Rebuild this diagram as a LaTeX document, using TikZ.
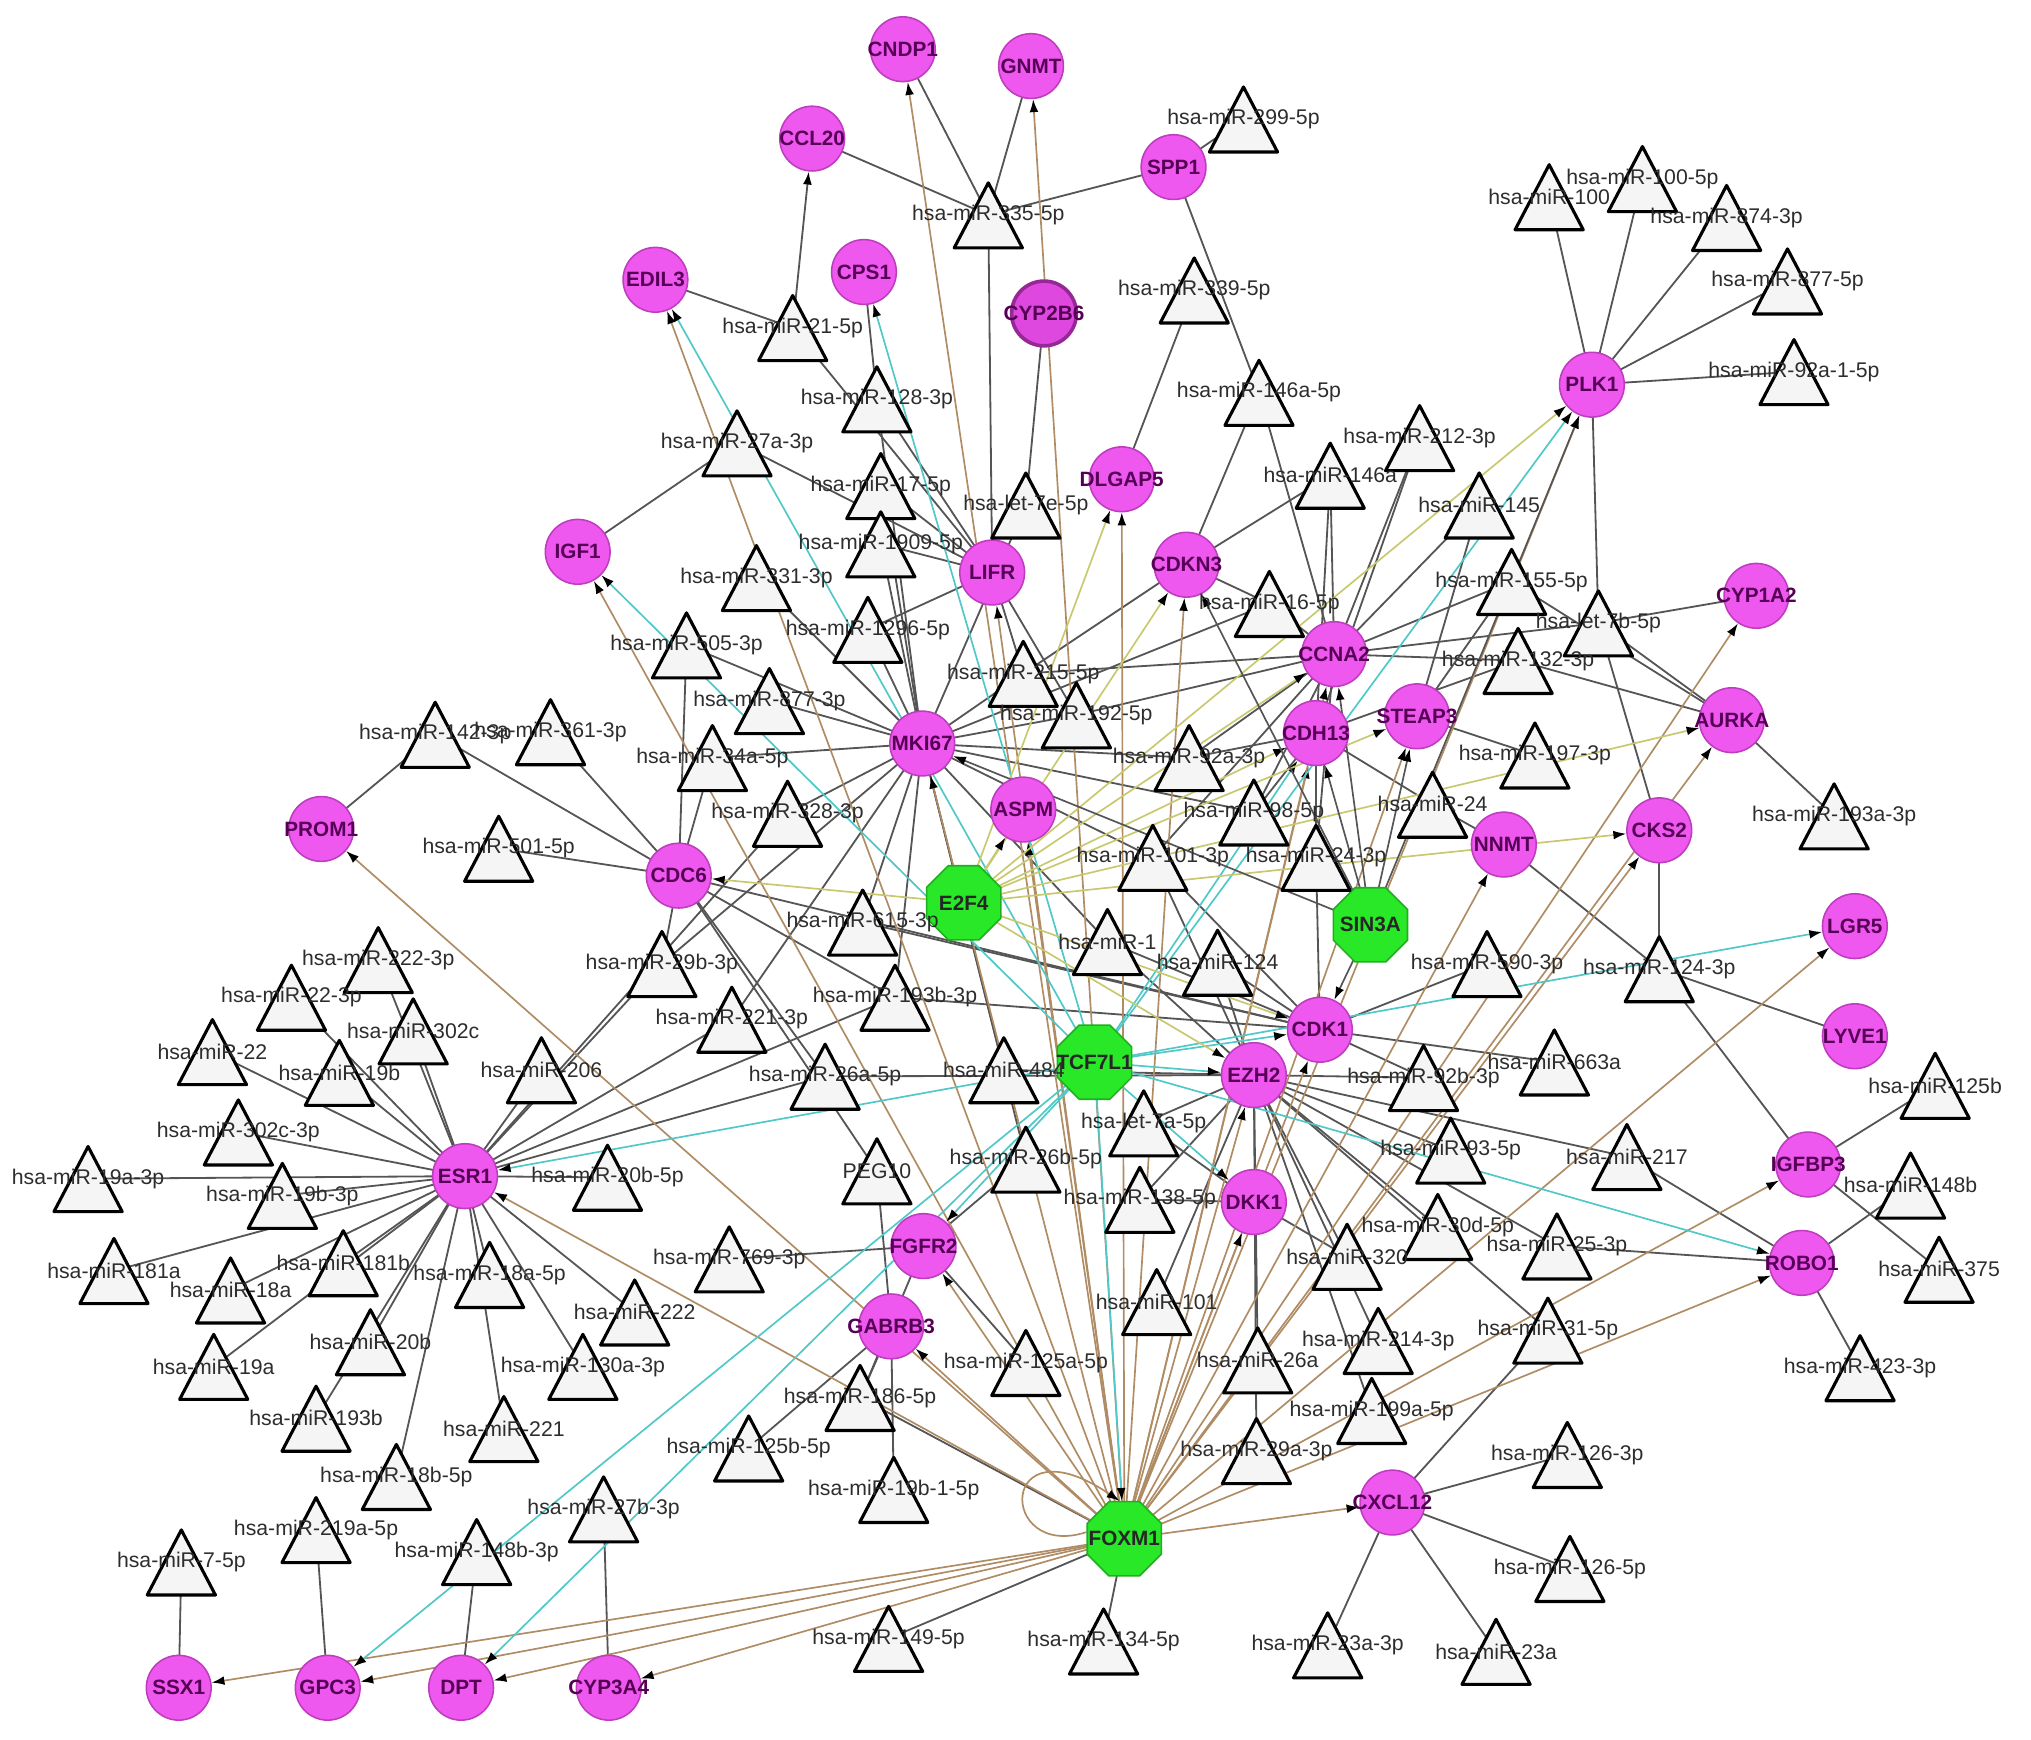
\documentclass[tikz,border=0pt]{standalone}
\usepackage{fontspec}
\setmainfont{Liberation Sans}
\usetikzlibrary{shapes.geometric,arrows.meta,backgrounds,calc}

\definecolor{genefill}{RGB}{238,88,238}
\definecolor{genedraw}{RGB}{190,60,190}
\definecolor{genetext}{RGB}{85,0,85}
\definecolor{tffill}{RGB}{40,232,40}
\definecolor{tfdraw}{RGB}{30,175,30}
\definecolor{labtext}{RGB}{45,45,45}
\definecolor{linkgray}{RGB}{85,85,85}
\definecolor{foxbrown}{RGB}{176,140,100}
\definecolor{tcfcyan}{RGB}{80,200,200}
\definecolor{e2folive}{RGB}{200,200,110}

\newcommand{\nb}[1]{\makebox[0pt]{#1}}

\tikzset{
  gene/.style={circle, draw=genedraw, line width=0.6pt, fill=genefill, minimum size=25pt, inner sep=0pt, text=genetext, font=\fontsize{8}{9}\selectfont\bfseries},
  tf/.style={regular polygon, regular polygon sides=8, draw=tfdraw, line width=0.6pt, fill=tffill, minimum size=31pt, inner sep=0pt, text=black!85, font=\fontsize{8}{9}\selectfont\bfseries},
  mir/.style={rectangle, minimum width=28pt, minimum height=27pt, inner sep=0pt, text=labtext, font=\fontsize{8.2}{9}\selectfont,
    path picture={\draw[line width=1.2pt, line join=round, fill=black!4]
      ($(path picture bounding box.north)!0.04!(path picture bounding box.south)$) --
      ($(path picture bounding box.south east)!0.03!(path picture bounding box.north west)$) --
      ($(path picture bounding box.south west)!0.03!(path picture bounding box.north east)$) -- cycle;}},
  mlink/.style={draw=linkgray, line width=0.7pt},
  tip/.style={-{Latex[length=5pt,width=3.4pt,color=black]}},
  foxlink/.style={tip, draw=foxbrown, line width=0.65pt},
  tcflink/.style={tip, draw=tcfcyan, line width=0.65pt},
  e2flink/.style={tip, draw=e2folive, line width=0.65pt},
  sinlink/.style={tip, draw=linkgray, line width=0.65pt},
}

\begin{document}
\begin{tikzpicture}[x=0.5pt,y=0.5pt,yscale=-1,xscale=1]
\useasboundingbox (0,0) rectangle (1568,1343);

%Gene nodes
\node[gene] (cndp1) at (697,38) {\nb{CNDP1}};
\node[gene] (gnmt) at (796,51) {\nb{GNMT}};
\node[gene] (ccl20) at (627,107) {\nb{CCL20}};
\node[gene] (spp1) at (906,129) {\nb{SPP1}};
\node[gene] (edil3) at (506,216) {\nb{EDIL3}};
\node[gene] (cps1) at (667,210) {\nb{CPS1}};
\node[gene, draw={rgb,255:red,150;green,40;blue,150}, line width=1.4pt, fill={rgb,255:red,222;green,72;blue,222}] (cyp2b6) at (806,242) {\nb{CYP2B6}};
\node[gene] (plk1) at (1229,297) {\nb{PLK1}};
\node[gene] (dlgap5) at (866,370) {\nb{DLGAP5}};
\node[gene] (igf1) at (446,426) {\nb{IGF1}};
\node[gene] (lifr) at (766,442) {\nb{LIFR}};
\node[gene] (cdkn3) at (916,436) {\nb{CDKN3}};
\node[gene] (cyp1a2) at (1356,460) {\nb{CYP1A2}};
\node[gene] (ccna2) at (1030,505) {\nb{CCNA2}};
\node[gene] (steap3) at (1094,553) {\nb{STEAP3}};
\node[gene] (cdh13) at (1016,566) {\nb{CDH13}};
\node[gene] (aurka) at (1337,556) {\nb{AURKA}};
\node[gene] (mki67) at (712,574) {\nb{MKI67}};
\node[gene] (aspm) at (790,625) {\nb{ASPM}};
\node[gene] (prom1) at (248,640) {\nb{PROM1}};
\node[gene] (cdc6) at (524,676) {\nb{CDC6}};
\node[gene] (nnmt) at (1161,652) {\nb{NNMT}};
\node[gene] (cks2) at (1281,641) {\nb{CKS2}};
\node[gene] (lgr5) at (1432,715) {\nb{LGR5}};
\node[gene] (lyve1) at (1432,800) {\nb{LYVE1}};
\node[gene] (cdk1) at (1019,795) {\nb{CDK1}};
\node[gene] (ezh2) at (968,830) {\nb{EZH2}};
\node[gene] (esr1) at (359,908) {\nb{ESR1}};
\node[gene] (igfbp3) at (1396,899) {\nb{IGFBP3}};
\node[gene] (dkk1) at (968,928) {\nb{DKK1}};
\node[gene] (fgfr2) at (713,962) {\nb{FGFR2}};
\node[gene] (robo1) at (1391,975) {\nb{ROBO1}};
\node[gene] (gabrb3) at (688,1024) {\nb{GABRB3}};
\node[gene] (cxcl12) at (1075,1160) {\nb{CXCL12}};
\node[gene] (ssx1) at (138,1303) {\nb{SSX1}};
\node[gene] (gpc3) at (253,1303) {\nb{GPC3}};
\node[gene] (dpt) at (356,1303) {\nb{DPT}};
\node[gene] (cyp3a4) at (470,1303) {\nb{CYP3A4}};

%Transcription factors
\node[tf] (e2f4) at (744,697) {\nb{E2F4}};
\node[tf] (sin3a) at (1058,714) {\nb{SIN3A}};
\node[tf] (tcf7l1) at (845,820) {\nb{TCF7L1}};
\node[tf] (foxm1) at (868,1188) {\nb{FOXM1}};

%miRNA nodes
\node[mir] (m299) at (960,92) {\nb{hsa-miR-299-5p}};
\node[mir] (m335) at (763,166) {\nb{hsa-miR-335-5p}};
\node[mir] (m100) at (1196,152) {\nb{hsa-miR-100}};
\node[mir] (m100b) at (1268,138) {\nb{hsa-miR-100-5p}};
\node[mir] (m874) at (1333,168) {\nb{hsa-miR-874-3p}};
\node[mir] (m877b) at (1380,217) {\nb{hsa-miR-877-5p}};
\node[mir] (m92x) at (1385,287) {\nb{hsa-miR-92a-1-5p}};
\node[mir] (m21) at (612,253) {\nb{hsa-miR-21-5p}};
\node[mir] (m339) at (922,224) {\nb{hsa-miR-339-5p}};
\node[mir] (m128) at (677,308) {\nb{hsa-miR-128-3p}};
\node[mir] (m146b) at (972,303) {\nb{hsa-miR-146a-5p}};
\node[mir] (m212) at (1096,338) {\nb{hsa-miR-212-3p}};
\node[mir] (m27a) at (569,342) {\nb{hsa-miR-27a-3p}};
\node[mir] (m17) at (680,375) {\nb{hsa-miR-17-5p}};
\node[mir] (l7e) at (792,390) {\nb{hsa-let-7e-5p}};
\node[mir] (m146) at (1027,367) {\nb{hsa-miR-146a}};
\node[mir] (m145) at (1142,390) {\nb{hsa-miR-145}};
\node[mir] (m1909) at (680,420) {\nb{hsa-miR-1909-5p}};
\node[mir] (m331) at (584,446) {\nb{hsa-miR-331-3p}};
\node[mir] (m155) at (1167,449) {\nb{hsa-miR-155-5p}};
\node[mir] (m16) at (980,466) {\nb{hsa-miR-16-5p}};
\node[mir] (l7b) at (1234,481) {\nb{hsa-let-7b-5p}};
\node[mir] (m505) at (530,498) {\nb{hsa-miR-505-3p}};
\node[mir] (m1296) at (670,486) {\nb{hsa-miR-1296-5p}};
\node[mir] (m215) at (790,520) {\nb{hsa-miR-215-5p}};
\node[mir] (m132) at (1172,510) {\nb{hsa-miR-132-3p}};
\node[mir] (m877) at (594,541) {\nb{hsa-miR-877-3p}};
\node[mir] (m192) at (831,552) {\nb{hsa-miR-192-5p}};
\node[mir] (m142) at (336,567) {\nb{hsa-miR-142-3p}};
\node[mir] (m361) at (425,565) {\nb{hsa-miR-361-3p}};
\node[mir] (m34a) at (550,585) {\nb{hsa-miR-34a-5p}};
\node[mir] (m92a) at (918,585) {\nb{hsa-miR-92a-3p}};
\node[mir] (m197) at (1185,583) {\nb{hsa-miR-197-3p}};
\node[mir] (m328) at (608,628) {\nb{hsa-miR-328-3p}};
\node[mir] (m98) at (968,627) {\nb{hsa-miR-98-5p}};
\node[mir] (m24) at (1106,621) {\nb{hsa-miR-24}};
\node[mir] (m501) at (385,655) {\nb{hsa-miR-501-5p}};
\node[mir] (m101c) at (890,662) {\nb{hsa-miR-101-3p}};
\node[mir] (m24c) at (1016,662) {\nb{hsa-miR-24-3p}};
\node[mir] (m193a) at (1416,630) {\nb{hsa-miR-193a-3p}};
\node[mir] (m615) at (666,712) {\nb{hsa-miR-615-3p}};
\node[mir] (m1) at (855,727) {\nb{hsa-miR-1}};
\node[mir] (m29b) at (511,744) {\nb{hsa-miR-29b-3p}};
\node[mir] (m124) at (940,743) {\nb{hsa-miR-124}};
\node[mir] (m590) at (1148,744) {\nb{hsa-miR-590-3p}};
\node[mir] (m124c) at (1281,748) {\nb{hsa-miR-124-3p}};
\node[mir] (m222c) at (292,741) {\nb{hsa-miR-222-3p}};
\node[mir] (m22c) at (225,770) {\nb{hsa-miR-22-3p}};
\node[mir] (m193bc) at (691,770) {\nb{hsa-miR-193b-3p}};
\node[mir] (m302c) at (319,796) {\nb{hsa-miR-302c}};
\node[mir] (m221c) at (565,787) {\nb{hsa-miR-221-3p}};
\node[mir] (m22) at (164,812) {\nb{hsa-miR-22}};
\node[mir] (m19b) at (262,828) {\nb{hsa-miR-19b}};
\node[mir] (m206) at (418,826) {\nb{hsa-miR-206}};
\node[mir] (m26a5) at (637,831) {\nb{hsa-miR-26a-5p}};
\node[mir] (m484) at (775,826) {\nb{hsa-miR-484}};
\node[mir] (m92b) at (1099,832) {\nb{hsa-miR-92b-3p}};
\node[mir] (m663) at (1200,820) {\nb{hsa-miR-663a}};
\node[mir] (m125b) at (1494,838) {\nb{hsa-miR-125b}};
\node[mir] (m302cc) at (184,874) {\nb{hsa-miR-302c-3p}};
\node[mir] (l7a) at (883,867) {\nb{hsa-let-7a-5p}};
\node[mir] (m19ac) at (68,910) {\nb{hsa-miR-19a-3p}};
\node[mir] (m19bc) at (218,923) {\nb{hsa-miR-19b-3p}};
\node[mir] (m20b5) at (469,909) {\nb{hsa-miR-20b-5p}};
\node[mir] (peg10) at (677,904) {\nb{PEG10}};
\node[mir] (m26b) at (792,895) {\nb{hsa-miR-26b-5p}};
\node[mir] (m93) at (1120,888) {\nb{hsa-miR-93-5p}};
\node[mir] (m217) at (1256,893) {\nb{hsa-miR-217}};
\node[mir] (m148b) at (1475,915) {\nb{hsa-miR-148b}};
\node[mir] (m138) at (880,926) {\nb{hsa-miR-138-5p}};
\node[mir] (m30d) at (1110,947) {\nb{hsa-miR-30d-5p}};
\node[mir] (m181a) at (88,981) {\nb{hsa-miR-181a}};
\node[mir] (m181b) at (265,975) {\nb{hsa-miR-181b}};
\node[mir] (m18a) at (178,996) {\nb{hsa-miR-18a}};
\node[mir] (m18a5) at (378,984) {\nb{hsa-miR-18a-5p}};
\node[mir] (m769) at (563,972) {\nb{hsa-miR-769-3p}};
\node[mir] (m320) at (1040,970) {\nb{hsa-miR-320}};
\node[mir] (m25) at (1202,962) {\nb{hsa-miR-25-3p}};
\node[mir] (m375) at (1497,980) {\nb{hsa-miR-375}};
\node[mir] (m222) at (490,1013) {\nb{hsa-miR-222}};
\node[mir] (m20b) at (286,1036) {\nb{hsa-miR-20b}};
\node[mir] (m101) at (893,1005) {\nb{hsa-miR-101}};
\node[mir] (m214) at (1064,1035) {\nb{hsa-miR-214-3p}};
\node[mir] (m31) at (1195,1027) {\nb{hsa-miR-31-5p}};
\node[mir] (m19a) at (165,1055) {\nb{hsa-miR-19a}};
\node[mir] (m130a) at (450,1055) {\nb{hsa-miR-130a-3p}};
\node[mir] (m125a) at (792,1052) {\nb{hsa-miR-125a-5p}};
\node[mir] (m26a) at (971,1050) {\nb{hsa-miR-26a}};
\node[mir] (m423) at (1436,1056) {\nb{hsa-miR-423-3p}};
\node[mir] (m186) at (664,1079) {\nb{hsa-miR-186-5p}};
\node[mir] (m199a) at (1059,1089) {\nb{hsa-miR-199a-5p}};
\node[mir] (m193b) at (244,1095) {\nb{hsa-miR-193b}};
\node[mir] (m221) at (389,1103) {\nb{hsa-miR-221}};
\node[mir] (m125b5) at (578,1118) {\nb{hsa-miR-125b-5p}};
\node[mir] (m29a) at (970,1120) {\nb{hsa-miR-29a-3p}};
\node[mir] (m126c) at (1210,1123) {\nb{hsa-miR-126-3p}};
\node[mir] (m18b) at (306,1140) {\nb{hsa-miR-18b-5p}};
\node[mir] (m19b1) at (690,1150) {\nb{hsa-miR-19b-1-5p}};
\node[mir] (m27b) at (466,1165) {\nb{hsa-miR-27b-3p}};
\node[mir] (m219) at (244,1181) {\nb{hsa-miR-219a-5p}};
\node[mir] (m148bc) at (368,1198) {\nb{hsa-miR-148b-3p}};
\node[mir] (m7) at (140,1206) {\nb{hsa-miR-7-5p}};
\node[mir] (m126e) at (1212,1211) {\nb{hsa-miR-126-5p}};
\node[mir] (m149) at (686,1265) {\nb{hsa-miR-149-5p}};
\node[mir] (m134) at (852,1267) {\nb{hsa-miR-134-5p}};
\node[mir] (m23ac) at (1025,1270) {\nb{hsa-miR-23a-3p}};
\node[mir] (m23a) at (1155,1275) {\nb{hsa-miR-23a}};

\begin{pgfonlayer}{background}
%miRNA - gene links
\draw[mlink] (m299.center) edge (spp1.center);
\draw[mlink] (m335.center) edge (cndp1.center) edge (gnmt.center) edge (ccl20.center) edge (spp1.center) edge (lifr.center);
\draw[mlink] (plk1.center) edge (m100.center) edge (m100b.center) edge (m874.center) edge (m877b.center) edge (m92x.center) edge (l7b.center);
\draw[mlink] (m21.center) edge (edil3.center) edge (lifr.center);
\draw[mlink, tip] (m21.center) -- (ccl20);
\draw[mlink] (m339.center) edge (dlgap5.center);
\draw[mlink] (m128.center) edge (cps1.center) edge (lifr.center) edge (mki67.center);
\draw[mlink] (m146b.center) edge (spp1.center) edge (cdkn3.center) edge (ccna2.center);
\draw[mlink] (m212.center) edge (ccna2.center) edge (cdh13.center);
\draw[mlink] (m27a.center) edge (igf1.center) edge (lifr.center);
\draw[mlink] (m17.center) edge (lifr.center) edge (mki67.center);
\draw[mlink] (l7e.center) edge (cyp2b6.center) edge (mki67.center);
\draw[mlink] (m146.center) edge (cdkn3.center) edge (ccna2.center) edge (cdh13.center);
\draw[mlink] (m145.center) edge (ccna2.center) edge (steap3.center);
\draw[mlink] (m1909.center) edge (lifr.center) edge (mki67.center);
\draw[mlink] (m331.center) edge (mki67.center);
\draw[mlink] (m155.center) edge (ccna2.center) edge (aurka.center) edge (steap3.center);
\draw[mlink] (m16.center) edge (cdkn3.center) edge (ccna2.center) edge (mki67.center);
\draw[mlink] (l7b.center) edge (ccna2.center) edge (cyp1a2.center) edge (aurka.center) edge (cks2.center);
\draw[mlink] (m505.center) edge (mki67.center) edge (cdc6.center);
\draw[mlink] (m1296.center) edge (lifr.center) edge (mki67.center);
\draw[mlink] (m215.center) edge (lifr.center) edge (mki67.center) edge (cdkn3.center) edge (ccna2.center);
\draw[mlink] (m132.center) edge (ccna2.center) edge (aurka.center) edge (cdh13.center);
\draw[mlink] (m877.center) edge (mki67.center);
\draw[mlink] (m192.center) edge (mki67.center) edge (ccna2.center) edge (lifr.center);
\draw[mlink] (cdc6.center) edge (m142.center) edge (m361.center) edge (m501.center) edge (m34a.center) edge (m29b.center) edge (m193bc.center) edge (m26a5.center) edge (peg10.center) edge (cdk1.center);
\draw[mlink] (m142.center) edge (prom1.center);
\draw[mlink] (m34a.center) edge (mki67.center);
\draw[mlink] (m92a.center) edge (mki67.center) edge (cdh13.center) edge (ccna2.center);
\draw[mlink] (m197.center) edge (steap3.center);
\draw[mlink] (m328.center) edge (mki67.center) edge (esr1.center);
\draw[mlink] (m98.center) edge (cdh13.center) edge (ccna2.center) edge (mki67.center);
\draw[mlink] (m24.center) edge (cdh13.center) edge (nnmt.center);
\draw[mlink] (m101c.center) edge (mki67.center) edge (ezh2.center) edge (cdk1.center) edge (ccna2.center);
\draw[mlink] (m24c.center) edge (ccna2.center) edge (cdk1.center) edge (cdh13.center);
\draw[mlink] (m193a.center) edge (aurka.center);
\draw[mlink] (m615.center) edge (mki67.center) edge (cdk1.center);
\draw[mlink] (m1.center) edge (mki67.center) edge (cdk1.center) edge (ezh2.center);
\draw[mlink] (m29b.center) edge (esr1.center) edge (mki67.center);
\draw[mlink] (m124.center) edge (cdk1.center) edge (ezh2.center);
\draw[mlink] (m590.center) edge (cdk1.center);
\draw[mlink] (m124c.center) edge (cks2.center) edge (nnmt.center) edge (lyve1.center) edge (igfbp3.center);
\draw[mlink] (esr1.center) edge (m222c.center) edge (m22c.center) edge (m302c.center) edge (m22.center) edge (m19b.center) edge (m206.center) edge (m302cc.center) edge (m19ac.center) edge (m19bc.center) edge (m20b5.center) edge (m181a.center) edge (m181b.center) edge (m18a.center) edge (m18a5.center) edge (m222.center) edge (m20b.center) edge (m19a.center) edge (m130a.center) edge (m193b.center) edge (m221.center) edge (m18b.center) edge (m193bc.center) edge (m221c.center) edge (m26a5.center);
\draw[mlink] (m193bc.center) edge (mki67.center) edge (cdk1.center);
\draw[mlink] (m221c.center) edge (mki67.center);
\draw[mlink] (m26a5.center) edge (ezh2.center);
\draw[mlink] (m484.center) edge (ezh2.center) edge (mki67.center);
\draw[mlink] (ezh2.center) edge (m92b.center) edge (m93.center) edge (m217.center) edge (m30d.center) edge (m320.center) edge (m25.center) edge (m101.center) edge (m214.center) edge (m31.center) edge (m26a.center) edge (m199a.center) edge (m29a.center) edge (m138.center) edge (l7a.center);
\draw[mlink] (m92b.center) edge (cdk1.center);
\draw[mlink] (m663.center) edge (cdk1.center);
\draw[mlink] (m125b.center) edge (igfbp3.center);
\draw[mlink] (dkk1.center) edge (l7a.center) edge (m138.center) edge (m320.center);
\draw[mlink] (peg10.center) edge (gabrb3.center);
\draw[mlink] (m26b.center) edge (fgfr2.center) edge (mki67.center);
\draw[mlink] (robo1.center) edge (m217.center) edge (m25.center) edge (m148b.center) edge (m423.center);
\draw[mlink] (igfbp3.center) edge (m375.center);
\draw[mlink] (m769.center) edge (fgfr2.center);
\draw[mlink] (m125a.center) edge (fgfr2.center);
\draw[mlink] (m186.center) edge (gabrb3.center) edge (fgfr2.center) edge (foxm1.center);
\draw[mlink] (m125b5.center) edge (gabrb3.center);
\draw[mlink] (m19b1.center) edge (gabrb3.center);
\draw[mlink] (cxcl12.center) edge (m31.center) edge (m126c.center) edge (m126e.center) edge (m23ac.center) edge (m23a.center);
\draw[mlink] (m27b.center) edge (cyp3a4.center);
\draw[mlink] (m219.center) edge (gpc3.center);
\draw[mlink] (m148bc.center) edge (dpt.center);
\draw[mlink] (m7.center) edge (ssx1.center);
\draw[mlink] (foxm1.center) edge (m149.center) edge (m134.center);

%Transcription factor links
\draw[foxlink] (foxm1.center) edge (cndp1) edge (gnmt) edge (edil3) edge (igf1) edge (lifr) edge (dlgap5) edge (cdkn3) edge (prom1) edge (esr1) edge (ssx1) edge (gpc3) edge (dpt) edge (cyp3a4) edge (gabrb3) edge (fgfr2) edge (mki67) edge (aspm) edge (cdh13) edge (ccna2) edge (steap3) edge (plk1) edge (cyp1a2) edge (aurka) edge (cks2) edge (nnmt) edge (cdk1) edge (ezh2) edge (dkk1) edge (igfbp3) edge (robo1) edge (cxcl12) edge (lgr5);
\draw[foxlink] (foxm1.170) .. controls (770,1205) and (770,1095) .. (foxm1.97);
\draw[tcflink] (tcf7l1.center) edge (edil3) edge (cps1) edge (igf1) edge (esr1) edge (gpc3) edge (dpt) edge (fgfr2) edge (cdk1) edge (ezh2) edge (dkk1) edge (robo1) edge (lgr5) edge (plk1) edge (cdh13) edge (foxm1);
\draw[e2flink] (e2f4.center) edge (cdc6) edge (cks2) edge (aurka) edge (plk1) edge (ccna2) edge (dlgap5) edge (cdkn3) edge (cdk1) edge (ezh2) edge (aspm) edge (steap3) edge (cdh13);
\draw[sinlink] (sin3a.center) edge (ccna2) edge (cdh13) edge (steap3) edge (mki67) edge (cdk1) edge (plk1) edge (cdkn3);
\end{pgfonlayer}

\end{tikzpicture}
\end{document}
